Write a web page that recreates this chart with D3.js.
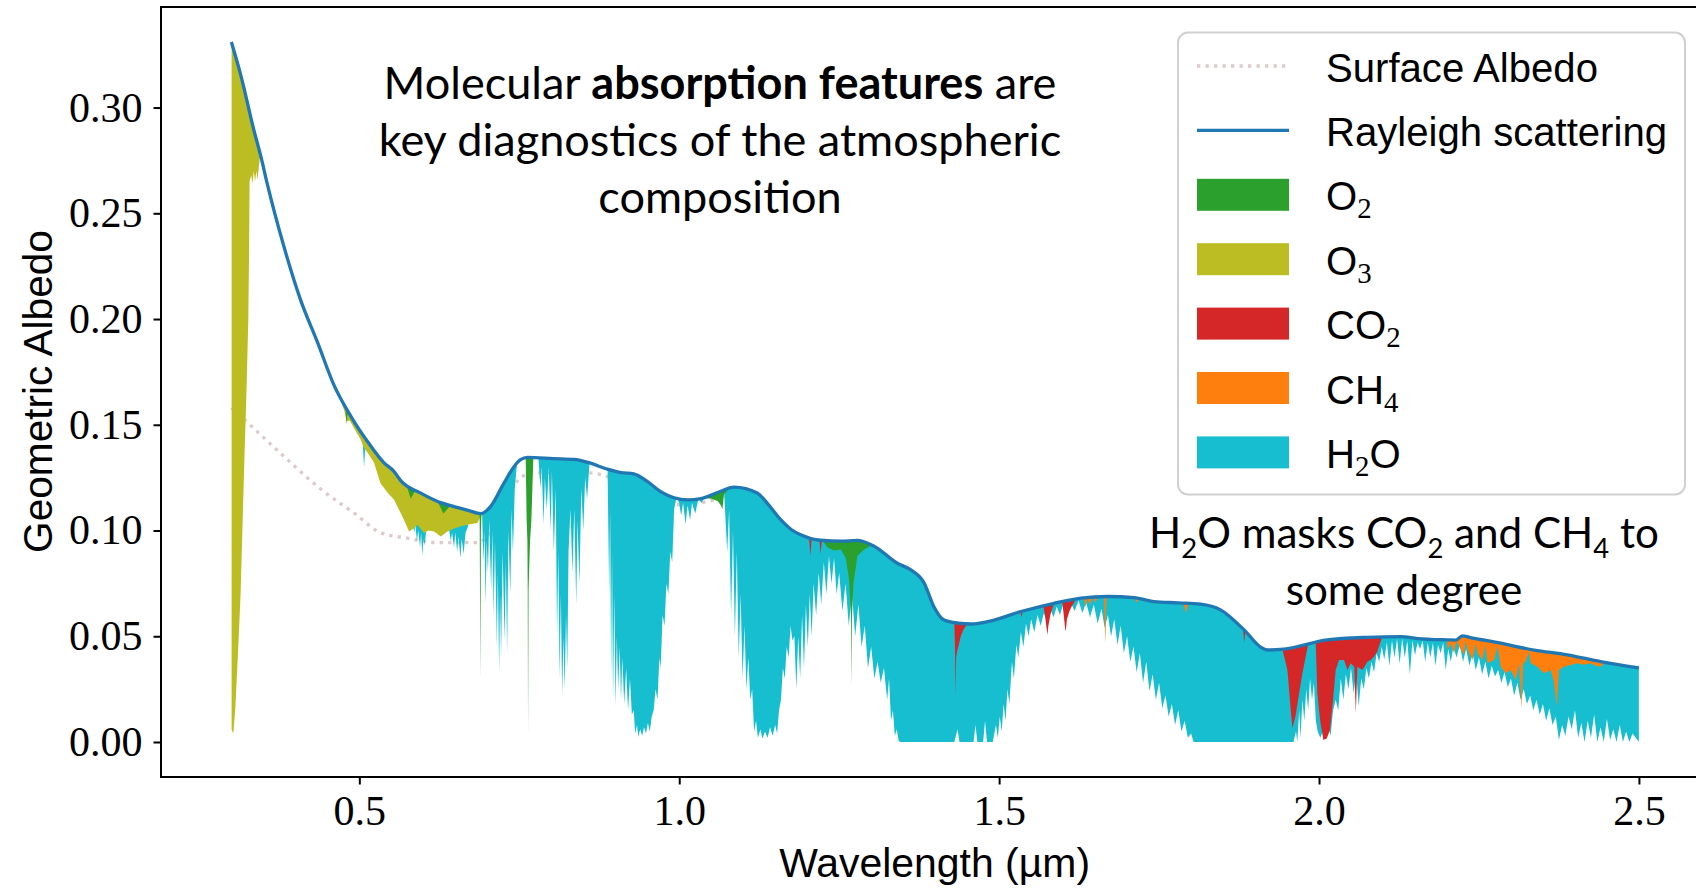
<!DOCTYPE html>
<html>
<head>
<meta charset="utf-8">
<script src="https://cdn.jsdelivr.net/npm/d3@7"></script>
<style>
  body { margin: 0; background: #fff; }
  svg { display: block; }
</style>
</head>
<body>
<div id="chart"></div>
<script>
// ---- data: [wavelength (um), geometric albedo] ----
const rayleigh = [
  [0.300,0.3310],[0.315,0.3150],[0.335,0.2895],[0.346,0.2770],[0.356,0.2640],[0.382,0.2344],[0.408,0.2092],
  [0.435,0.1887],[0.460,0.1690],[0.487,0.1539],[0.513,0.1420],[0.539,0.1319],[0.554,0.1280],
  [0.565,0.1235],[0.596,0.1177],[0.627,0.1132],[0.648,0.1113],[0.670,0.1095],[0.690,0.1080],
  [0.705,0.1113],[0.726,0.1224],[0.742,0.1303],[0.752,0.1335],[0.763,0.1346],[0.804,0.1340],
  [0.836,0.1336],[0.857,0.1322],[0.888,0.1290],[0.909,0.1274],[0.929,0.1268],[0.950,0.1232],
  [0.971,0.1184],[0.992,0.1155],[1.013,0.1145],[1.034,0.1151],[1.060,0.1180],[1.086,0.1205],
  [1.122,0.1177],[1.140,0.1120],[1.159,0.1050],[1.175,0.1005],[1.190,0.0980],[1.221,0.0954],
  [1.253,0.0950],[1.278,0.0953],[1.304,0.0927],[1.341,0.0845],[1.362,0.0814],[1.383,0.0751],
  [1.398,0.0640],[1.414,0.0577],[1.436,0.0562],[1.456,0.0558],[1.482,0.0569],[1.534,0.0617],
  [1.586,0.0656],[1.628,0.0680],[1.669,0.0688],[1.711,0.0683],[1.742,0.0664],[1.780,0.0658],
  [1.815,0.0652],[1.846,0.0625],[1.883,0.0530],[1.909,0.0448],[1.919,0.0435],[1.945,0.0439],
  [2.013,0.0483],[2.076,0.0495],[2.128,0.0498],[2.154,0.0489],[2.201,0.0483],[2.214,0.0482],
  [2.224,0.0502],[2.235,0.0495],[2.284,0.0467],[2.336,0.0435],[2.388,0.0412],[2.440,0.0380],
  [2.500,0.0350]
];

const surfaceAlbedo = [
  [0.300,0.1580],[0.336,0.1480],[0.388,0.1334],[0.440,0.1195],[0.492,0.1082],[0.533,0.0990],
  [0.575,0.0964],[0.622,0.0943],[0.685,0.0943],[0.700,0.0975],[0.716,0.1060],[0.731,0.1150],
  [0.752,0.1250],[0.773,0.1273],[0.857,0.1273],[0.905,0.1238],[0.960,0.1169],[1.002,0.1121],
  [1.044,0.1137],[1.096,0.1180],[1.122,0.1157],[1.159,0.1030],[1.190,0.0960],[1.221,0.0934],
  [1.278,0.0933],[1.304,0.0907],[1.341,0.0825],[1.362,0.0794],[1.383,0.0731],[1.398,0.0620],
  [1.414,0.0557],[1.456,0.0538],[1.534,0.0597],[1.628,0.0660],[1.669,0.0668],[1.711,0.0663],
  [1.742,0.0644],[1.815,0.0632],[1.846,0.0605],[1.883,0.0510],[1.909,0.0428],[1.945,0.0419],
  [2.013,0.0463],[2.076,0.0475],[2.128,0.0478],[2.201,0.0463],[2.284,0.0447],[2.336,0.0415],
  [2.388,0.0392],[2.440,0.0360],[2.500,0.0330]
];

// lower edge of each molecule's coloured band (upper edge is the Rayleigh curve)
const o2Bands = [
  [[0.4780,0.1590],[0.4800,0.1500],[0.4820,0.1570]],
  [[0.5726,0.1225],[0.5804,0.1150],[0.5882,0.1195]],
  [[0.6220,0.1140],[0.6314,0.1080],[0.6430,0.1120]],
  [[0.6880,0.1085],[0.6893,0.0290],[0.6900,0.1000],[0.6910,0.1085]],
  [[0.7600,0.1345],[0.7615,0.1050],[0.7627,0.0950],[0.7632,0.0720],[0.7637,0.0041],[0.7645,0.0720],
   [0.7668,0.0950],[0.7689,0.1050],[0.7720,0.1348]],
  [[1.0380,0.1155],[1.0500,0.1150],[1.0600,0.1140],[1.0650,0.1120],[1.0674,0.1100],[1.0700,0.1170],
   [1.0780,0.1198],[1.0860,0.1207]],
  [[1.2240,0.0956],[1.2316,0.0920],[1.2420,0.0905],[1.2525,0.0910],[1.2603,0.0870],[1.2655,0.0767],
   [1.2685,0.0600],[1.2691,0.0262],[1.2700,0.0600],[1.2723,0.0751],[1.2785,0.0880],[1.2890,0.0910],
   [1.2993,0.0928],[1.3040,0.0930]]
];

const o3Bands = [
  [[0.3000,0.0060],[0.3030,0.0040],[0.3060,0.0150],[0.3100,0.0400],[0.3143,0.0690],[0.3200,0.1300],
   [0.3240,0.1700],[0.3265,0.2000],[0.3276,0.2300],[0.3285,0.2650],[0.3310,0.2680],[0.3330,0.2640],
   [0.3350,0.2700],[0.3370,0.2650],[0.3390,0.2700],[0.3410,0.2660],[0.3430,0.2720],[0.3460,0.2800]],
  [[0.4580,0.1700],[0.4605,0.1680],[0.4700,0.1620],[0.4762,0.1570],[0.4803,0.1516],[0.4850,0.1520],
   [0.4918,0.1484],[0.5020,0.1430],[0.5074,0.1390],[0.5150,0.1360],[0.5230,0.1320],[0.5330,0.1224],
   [0.5440,0.1180],[0.5543,0.1145],[0.5674,0.1066],[0.5778,0.0995],[0.5850,0.1010],[0.5908,0.1027],
   [0.6012,0.0988],[0.6080,0.1000],[0.6168,0.0995],[0.6273,0.0972],[0.6377,0.0995],[0.6480,0.1010],
   [0.6590,0.1020],[0.6690,0.1027],[0.6846,0.1035],[0.6900,0.1070],[0.6924,0.1090]]
];

const co2Bands = [
  [[1.2030,0.0966],[1.2050,0.0880],[1.2070,0.0962],[1.2190,0.0956],[1.2210,0.0890],[1.2230,0.0955]],
  [[1.4300,0.0562],[1.4310,0.0450],[1.4320,0.0214],[1.4328,0.0400],[1.4345,0.0430],[1.4370,0.0460],
   [1.4400,0.0500],[1.4440,0.0530],[1.4480,0.0548],[1.4510,0.0558]],
  [[1.5330,0.0618],[1.5350,0.0590],[1.5370,0.0620]],
  [[1.5690,0.0645],[1.5720,0.0590],[1.5745,0.0530],[1.5755,0.0506],[1.5770,0.0550],[1.5800,0.0600],
   [1.5830,0.0630],[1.5860,0.0656]],
  [[1.5985,0.0665],[1.6010,0.0600],[1.6030,0.0540],[1.6041,0.0522],[1.6060,0.0580],[1.6100,0.0620],
   [1.6150,0.0650],[1.6200,0.0672]],
  [[1.8810,0.0540],[1.8830,0.0470],[1.8850,0.0525]],
  [[1.9427,0.0440],[1.9506,0.0341],[1.9558,0.0151],[1.9584,0.0065],[1.9636,0.0128],[1.9672,0.0199],
   [1.9740,0.0325],[1.9829,0.0460]],
  [[1.9948,0.0470],[1.9974,0.0230],[2.0016,0.0104],[2.0068,0.0010],[2.0120,0.0017],[2.0172,0.0057],
   [2.0214,0.0183],[2.0261,0.0341],[2.0313,0.0388],[2.0391,0.0388],[2.0443,0.0341],[2.0495,0.0372],
   [2.0550,0.0356],[2.0575,0.0136],[2.0600,0.0356],[2.0678,0.0341],[2.0756,0.0380],[2.0808,0.0388],
   [2.0860,0.0404],[2.0912,0.0428],[2.0990,0.0500]]
];

const ch4Bands = [
  [[1.6320,0.0681],[1.6350,0.0640],[1.6380,0.0676],[1.6420,0.0650],[1.6460,0.0684],[1.6500,0.0660],[1.6540,0.0686]],
  [[1.6640,0.0690],[1.6660,0.0467],[1.6680,0.0690]],
  [[1.7100,0.0683],[1.7150,0.0660],[1.7200,0.0681],[1.7300,0.0665],[1.7400,0.0666]],
  [[1.7880,0.0657],[1.7920,0.0610],[1.7960,0.0656]],
  [[2.2000,0.0484],[2.2006,0.0436],[2.2060,0.0465],[2.2111,0.0420],[2.2150,0.0478],[2.2190,0.0450],
   [2.2267,0.0412],[2.2290,0.0478],[2.2320,0.0440],[2.2397,0.0388],[2.2450,0.0465],[2.2475,0.0420],
   [2.2553,0.0388],[2.2600,0.0455],[2.2632,0.0372],[2.2736,0.0388],[2.2790,0.0450],[2.2840,0.0356],
   [2.2918,0.0325],[2.2996,0.0340],[2.3074,0.0293],[2.3127,0.0372],[2.3170,0.0159],[2.3190,0.0370],
   [2.3230,0.0380],[2.3280,0.0425],[2.3309,0.0372],[2.3413,0.0356],[2.3517,0.0325],[2.3621,0.0340],
   [2.3673,0.0285],[2.3715,0.0167],[2.3750,0.0340],[2.3830,0.0356],[2.3934,0.0364],[2.4038,0.0372],
   [2.4140,0.0365],[2.4247,0.0372],[2.4330,0.0360],[2.4403,0.0356],[2.4450,0.0370],[2.4500,0.0378]]
];

const h2oBands = [
  [[0.5050,0.1430],[0.5074,0.1300],[0.5095,0.1410]],
  [[0.5830,0.1040],[0.5860,0.0990],[0.5875,0.1030],[0.5900,0.0950],[0.5920,0.1000],[0.5950,0.0920],
   [0.5965,0.0990],[0.5985,0.0880],[0.6000,0.0960],[0.6020,0.0930],[0.6045,0.1000]],
  [[0.6400,0.1010],[0.6430,0.0950],[0.6450,0.0990],[0.6480,0.0920],[0.6500,0.0990],[0.6530,0.0900],
   [0.6550,0.0970],[0.6580,0.0870],[0.6600,0.0960],[0.6630,0.0890],[0.6660,0.0990],[0.6700,0.1020]],
  [[0.6920,0.1070],[0.6940,0.0850],[0.6955,0.1000],[0.6975,0.0650],[0.6990,0.0950],[0.7010,0.0800],
   [0.7030,0.1050],[0.7060,0.0720],[0.7080,0.1000],[0.7100,0.0600],[0.7120,0.0950],[0.7150,0.0450],
   [0.7165,0.0800],[0.7185,0.0330],[0.7200,0.0700],[0.7215,0.0400],[0.7240,0.0900],[0.7270,0.0480],
   [0.7290,0.0850],[0.7310,0.0420],[0.7330,0.1000],[0.7360,0.0700],[0.7380,0.1100],[0.7400,0.0900],
   [0.7430,0.1200],[0.7460,0.1300]],
  [[0.7800,0.1340],[0.7830,0.1200],[0.7850,0.1300],[0.7880,0.1030],[0.7900,0.1250],[0.7930,0.1100],
   [0.7960,0.1300],[0.7990,0.1000],[0.8010,0.1280],[0.8040,0.0900],[0.8070,0.1200],[0.8090,0.0500],
   [0.8110,0.0900],[0.8130,0.0300],[0.8150,0.0700],[0.8170,0.0220],[0.8190,0.0500],[0.8210,0.0250],
   [0.8230,0.0600],[0.8250,0.0350],[0.8270,0.0900],[0.8300,0.1100],[0.8330,0.0800],[0.8360,0.1100],
   [0.8390,0.0650],[0.8410,0.1050],[0.8440,0.0750],[0.8470,0.1200],[0.8500,0.1000],[0.8530,0.1250],
   [0.8560,0.1150],[0.8600,0.1330]],
  [[0.8880,0.1290],[0.8905,0.0700],[0.8920,0.1100],[0.8935,0.0300],[0.8950,0.0900],[0.8965,0.0200],
   [0.8985,0.0700],[0.9005,0.0170],[0.9025,0.0500],[0.9045,0.0250],[0.9070,0.0450],[0.9090,0.0200],
   [0.9110,0.0400],[0.9140,0.0180],[0.9170,0.0350],[0.9200,0.0150],[0.9230,0.0300],[0.9260,0.0130],
   [0.9290,0.0150],[0.9310,0.0040],[0.9340,0.0080],[0.9360,0.0025],[0.9390,0.0060],[0.9420,0.0030],
   [0.9450,0.0070],[0.9480,0.0040],[0.9510,0.0090],[0.9540,0.0050],[0.9570,0.0120],[0.9600,0.0150],
   [0.9630,0.0250],[0.9660,0.0200],[0.9690,0.0400],[0.9710,0.0350],[0.9740,0.0600],[0.9770,0.0550],
   [0.9800,0.0750],[0.9830,0.0700],[0.9860,0.0900],[0.9890,0.0850],[0.9920,0.1100],[0.9960,0.1160],
   [1.0000,0.1130],[1.0030,0.1070],[1.0060,0.1130],[1.0100,0.1030],[1.0130,0.1120],[1.0170,0.1050],
   [1.0200,0.1130],[1.0250,0.1080],[1.0300,0.1150],[1.0350,0.1130],[1.0400,0.1160]],
  [[1.0700,0.1190],[1.0750,0.0900],[1.0780,0.1100],[1.0810,0.0600],[1.0840,0.1000],[1.0870,0.0500],
   [1.0900,0.0900],[1.0930,0.0400],[1.0960,0.0700],[1.0990,0.0300],[1.1020,0.0550],[1.1050,0.0250],
   [1.1080,0.0400],[1.1110,0.0200],[1.1140,0.0250],[1.1170,0.0050],[1.1200,0.0100],[1.1230,0.0020],
   [1.1270,0.0060],[1.1300,0.0015],[1.1340,0.0050],[1.1380,0.0020],[1.1420,0.0070],[1.1460,0.0030],
   [1.1500,0.0080],[1.1530,0.0040],[1.1560,0.0150],[1.1590,0.0200],[1.1620,0.0350],[1.1650,0.0300],
   [1.1680,0.0450],[1.1710,0.0400],[1.1740,0.0550],[1.1770,0.0480],[1.1800,0.0500],[1.1830,0.0250],
   [1.1860,0.0500],[1.1890,0.0300],[1.1920,0.0600],[1.1950,0.0350],[1.1980,0.0650],[1.2010,0.0450],
   [1.2040,0.0700],[1.2070,0.0500],[1.2100,0.0750],[1.2140,0.0600],[1.2180,0.0800],[1.2220,0.0650],
   [1.2260,0.0850],[1.2300,0.0700],[1.2340,0.0880],[1.2380,0.0750],[1.2420,0.0870],[1.2460,0.0700],
   [1.2500,0.0800],[1.2550,0.0620],[1.2600,0.0750],[1.2650,0.0550],[1.2700,0.0700],[1.2750,0.0500],
   [1.2800,0.0650],[1.2850,0.0450],[1.2900,0.0550],[1.2950,0.0350],[1.3000,0.0450],[1.3050,0.0300],
   [1.3100,0.0380],[1.3150,0.0280],[1.3200,0.0350],[1.3250,0.0200],[1.3280,0.0300],[1.3310,0.0100],
   [1.3340,0.0150],[1.3370,0.0030],[1.3400,0.0060],[1.3430,0.0005],[1.3460,0.0000],[1.4300,0.0000],
   [1.4350,0.0060],[1.4380,0.0000],[1.4600,0.0000],[1.4630,0.0080],[1.4660,0.0000],[1.4750,0.0000],
   [1.4780,0.0100],[1.4810,0.0000],[1.4900,0.0000],[1.4950,0.0080],[1.4980,0.0020],[1.5010,0.0120],
   [1.5040,0.0050],[1.5070,0.0180],[1.5100,0.0100],[1.5130,0.0250],[1.5160,0.0180],[1.5200,0.0380],
   [1.5230,0.0300],[1.5270,0.0460],[1.5300,0.0400],[1.5340,0.0520],[1.5380,0.0450],[1.5420,0.0560],
   [1.5460,0.0500],[1.5500,0.0580],[1.5550,0.0520],[1.5600,0.0600],[1.5650,0.0550],[1.5700,0.0610],
   [1.5750,0.0570],[1.5800,0.0630],[1.5850,0.0590],[1.5900,0.0640],[1.5950,0.0600],[1.6000,0.0650],
   [1.6060,0.0610],[1.6120,0.0660],[1.6180,0.0620],[1.6240,0.0670],[1.6300,0.0610],[1.6360,0.0660],
   [1.6420,0.0590],[1.6480,0.0650],[1.6540,0.0560],[1.6600,0.0630],[1.6650,0.0540],[1.6700,0.0600],
   [1.6750,0.0500],[1.6800,0.0580],[1.6850,0.0460],[1.6900,0.0550],[1.6950,0.0420],[1.7000,0.0500],
   [1.7050,0.0380],[1.7100,0.0450],[1.7150,0.0330],[1.7200,0.0420],[1.7250,0.0280],[1.7300,0.0380],
   [1.7350,0.0240],[1.7400,0.0320],[1.7450,0.0200],[1.7500,0.0280],[1.7550,0.0160],[1.7600,0.0220],
   [1.7650,0.0120],[1.7700,0.0180],[1.7750,0.0080],[1.7800,0.0150],[1.7850,0.0050],[1.7900,0.0100],
   [1.7950,0.0020],[1.8000,0.0040],[1.8040,0.0000],[1.9600,0.0000],[1.9640,0.0050],[1.9660,0.0000],
   [1.9690,0.0150],[1.9710,0.0020],[1.9740,0.0200],[1.9770,0.0100],[1.9800,0.0250],[1.9830,0.0150],
   [1.9860,0.0300],[1.9890,0.0200],[1.9920,0.0280],[1.9950,0.0100],[1.9980,0.0050],[2.0020,0.0020],
   [2.0060,0.0050],[2.0100,0.0020],[2.0140,0.0080],[2.0180,0.0030],[2.0220,0.0150],[2.0260,0.0200],
   [2.0300,0.0150],[2.0340,0.0300],[2.0380,0.0200],[2.0420,0.0320],[2.0460,0.0250],[2.0500,0.0350],
   [2.0540,0.0230],[2.0580,0.0330],[2.0620,0.0170],[2.0660,0.0300],[2.0700,0.0250],[2.0740,0.0350],
   [2.0780,0.0300],[2.0820,0.0380],[2.0860,0.0330],[2.0900,0.0420],[2.0940,0.0380],[2.0980,0.0450],
   [2.1020,0.0390],[2.1060,0.0470],[2.1100,0.0360],[2.1140,0.0480],[2.1180,0.0400],[2.1220,0.0490],
   [2.1260,0.0370],[2.1300,0.0490],[2.1340,0.0400],[2.1380,0.0480],[2.1420,0.0320],[2.1460,0.0480],
   [2.1500,0.0410],[2.1540,0.0470],[2.1580,0.0440],[2.1620,0.0480],[2.1660,0.0380],[2.1700,0.0470],
   [2.1740,0.0400],[2.1780,0.0470],[2.1820,0.0360],[2.1860,0.0460],[2.1900,0.0420],[2.1940,0.0470],
   [2.1980,0.0340],[2.2020,0.0440],[2.2060,0.0380],[2.2100,0.0450],[2.2150,0.0400],[2.2200,0.0460],
   [2.2250,0.0380],[2.2300,0.0440],[2.2350,0.0360],[2.2400,0.0420],[2.2450,0.0340],[2.2500,0.0400],
   [2.2550,0.0320],[2.2600,0.0380],[2.2650,0.0300],[2.2700,0.0360],[2.2750,0.0310],[2.2800,0.0340],
   [2.2850,0.0280],[2.2900,0.0330],[2.2950,0.0260],[2.3000,0.0300],[2.3050,0.0220],[2.3100,0.0280],
   [2.3150,0.0200],[2.3200,0.0250],[2.3250,0.0180],[2.3300,0.0220],[2.3350,0.0150],[2.3400,0.0200],
   [2.3450,0.0130],[2.3500,0.0180],[2.3550,0.0100],[2.3600,0.0160],[2.3650,0.0080],[2.3700,0.0120],
   [2.3750,0.0010],[2.3800,0.0080],[2.3850,0.0030],[2.3900,0.0120],[2.3950,0.0060],[2.4000,0.0150],
   [2.4050,0.0020],[2.4100,0.0090],[2.4150,0.0000],[2.4200,0.0100],[2.4250,0.0020],[2.4300,0.0130],
   [2.4350,0.0000],[2.4400,0.0070],[2.4450,0.0000],[2.4500,0.0110],[2.4550,0.0010],[2.4600,0.0060],
   [2.4650,0.0000],[2.4700,0.0080],[2.4750,0.0000],[2.4800,0.0050],[2.4850,0.0000],[2.4900,0.0040],
   [2.5000,0.0000]]
];

const xTicks = [0.5, 1.0, 1.5, 2.0, 2.5];
const yTicks = [0.00, 0.05, 0.10, 0.15, 0.20, 0.25, 0.30];

const moleculeNames = ["O2", "O3", "CO2", "CH4", "H2O"];
const moleculeColors = ["#2ca02c", "#bcbd22", "#d62728", "#ff7f0e", "#17becf"];
// legend text pieces: [text, isSubscript]
const legendParts = [
  [["O",0],["2",1]], [["O",0],["3",1]], [["CO",0],["2",1]], [["CH",0],["4",1]], [["H",0],["2",1],["O",0]]
];

// ---- layout ----
const W = 1696, H = 888;
const SANS = "'Liberation Sans', Arial, sans-serif";
const SERIF = "'Liberation Serif', 'Times New Roman', serif";
const NOTE = "Lato, 'Open Sans', sans-serif";

const x = d3.scaleLinear().domain([0.19, 2.61]).range([161, 1709.3]);
const y = d3.scaleLinear().domain([-0.01655, 0.34755]).range([777, 7]);

const svg = d3.select("#chart").append("svg")
    .attr("width", W)
    .attr("height", H);

svg.append("rect").attr("width", W).attr("height", H).attr("fill", "#fff");

// clip: everything under the Rayleigh curve
const defs = svg.append("defs");
defs.append("clipPath").attr("id", "under-rayleigh")
  .append("path")
    .attr("d", d3.area()
        .x(d => x(d[0]))
        .y0(y(-0.02))
        .y1(d => y(d[1]))
        .curve(d3.curveMonotoneX)(rayleigh));

// surface albedo (dotted), underneath the absorption fills
svg.append("path")
    .attr("d", d3.line().x(d => x(d[0])).y(d => y(d[1])).curve(d3.curveMonotoneX)(surfaceAlbedo))
    .attr("fill", "none")
    .attr("stroke", "#decaca")
    .attr("stroke-width", 3.3)
    .attr("stroke-dasharray", "3.3 5.2");

const bandArea = d3.area()
    .x(d => x(d[0]))
    .y0(d => y(d[1]))
    .y1(y(0.36));

// paint from the lowest layer upwards
const layers = [
  { bands: h2oBands, color: moleculeColors[4] },
  { bands: ch4Bands, color: moleculeColors[3] },
  { bands: co2Bands, color: moleculeColors[2] },
  { bands: o3Bands,  color: moleculeColors[1] },
  { bands: o2Bands,  color: moleculeColors[0] }
];

const plot = svg.append("g").attr("clip-path", "url(#under-rayleigh)");
layers.forEach(l => {
  plot.append("g").selectAll("path")
    .data(l.bands)
    .join("path")
      .attr("d", bandArea)
      .attr("fill", l.color)
      .attr("stroke", "none");
});

// rayleigh line
svg.append("path")
    .attr("d", d3.line().x(d => x(d[0])).y(d => y(d[1])).curve(d3.curveMonotoneX)(rayleigh))
    .attr("fill", "none")
    .attr("stroke", "#1f77b4")
    .attr("stroke-width", 3.3)
    .attr("stroke-linejoin", "round");

// axes
const yAxis = svg.append("g")
    .attr("transform", `translate(${x.range()[0]},0)`)
    .call(d3.axisLeft(y).tickValues(yTicks).tickFormat(d3.format(".2f")).tickSize(7.5).tickPadding(11));
const xAxis = svg.append("g")
    .attr("transform", `translate(0,${y.range()[0]})`)
    .call(d3.axisBottom(x).tickValues(xTicks).tickFormat(d3.format(".1f")).tickSize(7.5).tickPadding(10.5));

[xAxis, yAxis].forEach(a => {
  a.select(".domain").remove();
  a.selectAll(".tick line").attr("stroke", "#000").attr("stroke-width", 2);
  a.selectAll(".tick text")
      .attr("font-family", SERIF)
      .attr("font-size", 42)
      .attr("fill", "#000");
});

// frame
svg.append("rect")
    .attr("x", x.range()[0])
    .attr("y", y.range()[1])
    .attr("width", x.range()[1] - x.range()[0])
    .attr("height", y.range()[0] - y.range()[1])
    .attr("fill", "none")
    .attr("stroke", "#000")
    .attr("stroke-width", 2);

function fitFont(sel, target) {
  const w = sel.node().getComputedTextLength();
  const fs = parseFloat(sel.attr("font-size"));
  const nf = fs * target / w;
  sel.attr("font-size", nf);
  return nf;
}

// axis labels
const xl = svg.append("text")
    .attr("x", 934.6).attr("y", 877)
    .attr("text-anchor", "middle")
    .attr("font-family", SANS).attr("font-size", 40)
    .text("Wavelength (µm)");
fitFont(xl, 311);

const yl = svg.append("text")
    .attr("transform", "translate(52,391.5) rotate(-90)")
    .attr("text-anchor", "middle")
    .attr("font-family", SANS).attr("font-size", 40)
    .text("Geometric Albedo");
fitFont(yl, 323);

// legend
const legend = svg.append("g");
legend.append("rect")
    .attr("x", 1178).attr("y", 32.5)
    .attr("width", 507).attr("height", 462)
    .attr("rx", 10).attr("ry", 10)
    .attr("fill", "#fff").attr("fill-opacity", 0.8)
    .attr("stroke", "#d0d0d0").attr("stroke-width", 2);

const rowY = d3.range(7).map(i => 66 + i * 64.4);
const hx0 = 1197, hx1 = 1289, tx = 1326;

legend.append("line")
    .attr("x1", hx0).attr("x2", hx1).attr("y1", rowY[0]).attr("y2", rowY[0])
    .attr("stroke", "#decaca").attr("stroke-width", 3.3).attr("stroke-dasharray", "3.3 5.2");
legend.append("line")
    .attr("x1", hx0).attr("x2", hx1).attr("y1", rowY[1]).attr("y2", rowY[1])
    .attr("stroke", "#1f77b4").attr("stroke-width", 3.3);

const t0 = legend.append("text")
    .attr("x", tx).attr("y", rowY[0] + 15.5)
    .attr("font-family", SANS).attr("font-size", 40)
    .text("Surface Albedo");
const legendFs = fitFont(t0, 272);
legend.append("text")
    .attr("x", tx).attr("y", rowY[1] + 15.5)
    .attr("font-family", SANS).attr("font-size", legendFs)
    .text("Rayleigh scattering");

moleculeNames.forEach((m, i) => {
  const ry = rowY[i + 2];
  legend.append("rect")
      .attr("x", hx0).attr("y", ry - 16)
      .attr("width", hx1 - hx0).attr("height", 32)
      .attr("fill", moleculeColors[i]);
  const t = legend.append("text")
      .attr("x", tx).attr("y", ry + 15.5)
      .attr("font-family", SANS).attr("font-size", legendFs);
  let shifted = false;
  legendParts[i].forEach(([s, sub]) => {
    const ts = t.append("tspan").text(s);
    if (sub) {
      ts.attr("font-family", SERIF).attr("font-size", legendFs * 0.72).attr("dy", 8);
      shifted = true;
    } else if (shifted) {
      ts.attr("dy", -8);
      shifted = false;
    }
  });
});

// annotations
const noteLines = svg.append("g").attr("font-family", NOTE).attr("fill", "#000").attr("text-anchor", "middle");
const n1 = noteLines.append("text").attr("x", 720).attr("y", 99).attr("font-size", 44);
n1.append("tspan").text("Molecular ");
n1.append("tspan").attr("font-weight", "bold").text("absorption features");
n1.append("tspan").text(" are");
const noteFs = fitFont(n1, 673);
noteLines.append("text").attr("x", 720).attr("y", 156).attr("font-size", noteFs)
    .text("key diagnostics of the atmospheric");
noteLines.append("text").attr("x", 720).attr("y", 213).attr("font-size", noteFs)
    .text("composition");

const m1 = noteLines.append("text").attr("x", 1404).attr("y", 548).attr("font-size", 44);
[["H",0],["2",1],["O masks CO",0],["2",1],[" and CH",0],["4",1],[" to",0]].forEach(([s, sub], i, arr) => {
  const ts = m1.append("tspan").text(s);
  if (sub) ts.attr("font-size", "65%").attr("dy", "0.35em");
  else if (i > 0 && arr[i - 1][1]) ts.attr("dy", "-0.2275em");
});
const maskFs = fitFont(m1, 510);
noteLines.append("text").attr("x", 1404).attr("y", 605).attr("font-size", maskFs)
    .text("some degree");
</script>
</body>
</html>
